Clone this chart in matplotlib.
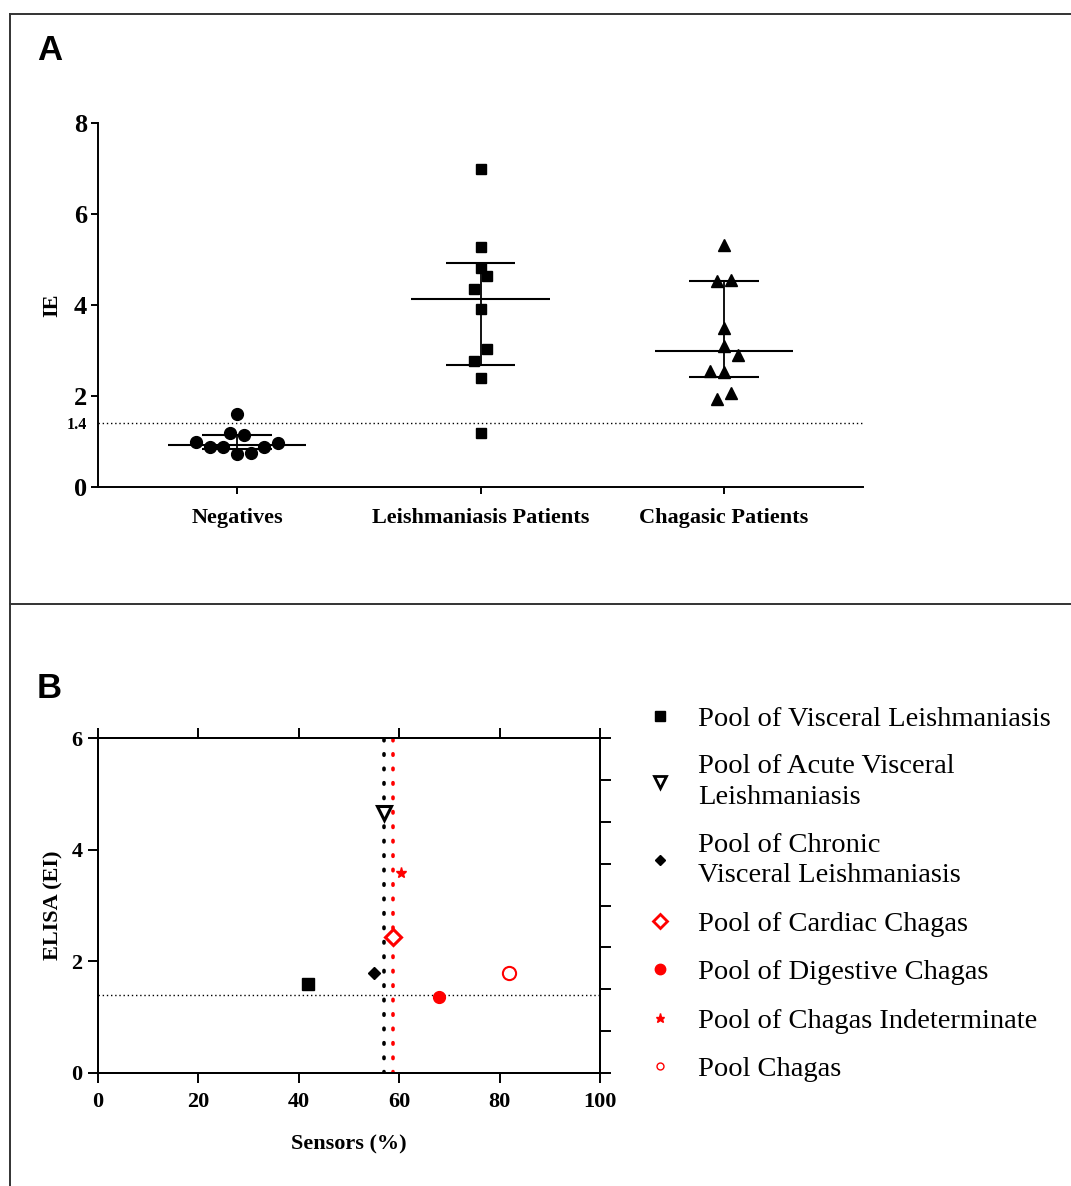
import numpy as np
import matplotlib
matplotlib.use("Agg")
import matplotlib.pyplot as plt
from matplotlib.lines import Line2D

plt.rcParams["font.family"] = ["Liberation Serif", "DejaVu Serif"]

# ---------------- Panel A data: IE per group ----------------
groups = ["Negatives", "Leishmaniasis Patients", "Chagasic Patients"]
ie_negatives = [1.60, 1.19, 1.14, 0.98, 0.87, 0.87, 0.73, 0.75, 0.87, 0.96]
ie_leish = [7.00, 5.28, 4.81, 4.64, 4.35, 3.92, 3.03, 2.78, 2.40, 1.18]
ie_chagas = [5.32, 4.53, 4.55, 3.49, 3.10, 2.90, 2.55, 2.53, 1.93, 2.06]
cutoff_ie = 1.4
yticks_a = [0, 2, 4, 6, 8]

# horizontal swarm slots used to keep overlapping points apart
slots_neg = [0, -0.5, 0.5, -3, -2, -1, 0, 1, 2, 3]
slots_leish = [0, 0, 0, 0.5, -0.5, 0, 0.5, -0.5, 0, 0]
slots_chagas = [0, -0.5, 0.5, 0, 0, 1, -1, 0, -0.5, 0.5]

# ---------------- Panel B data: sensors vs ELISA ----------------
pool_labels = [
    "Pool of Visceral Leishmaniasis",
    "Pool of Acute Visceral\nLeishmaniasis",
    "Pool of Chronic\nVisceral Leishmaniasis",
    "Pool of Cardiac Chagas",
    "Pool of Digestive Chagas",
    "Pool of Chagas Indeterminate",
    "Pool Chagas",
]
sensor_pct = [41.9, 57.0, 55.0, 58.8, 67.9, 60.3, 81.9]
elisa_ei = [1.59, 4.65, 1.80, 2.44, 1.36, 3.58, 1.79]
sensor_cutoff_leish = 57.0
sensor_cutoff_chagas = 58.8
elisa_cutoff = 1.4
xticks_b = [0, 20, 40, 60, 80, 100]
yticks_b = [0, 2, 4, 6]

W, H = 1071, 1186
fig = plt.figure(figsize=(W / 100, H / 100), dpi=100)

def fx(px):
    return px / W

def fy(py):
    return 1 - py / H

# panel frames
frame_kw = dict(color="#333333", lw=1.4, transform=fig.transFigure)
fig.add_artist(Line2D([fx(10), 1.0], [fy(14), fy(14)], **frame_kw))
fig.add_artist(Line2D([fx(10), 1.0], [fy(604), fy(604)], **frame_kw))
fig.add_artist(Line2D([fx(10), fx(10)], [0, fy(14)], **frame_kw))

fig.text(fx(37), fy(50), "A", fontsize=25, fontweight="bold",
         family="Liberation Sans", va="center", ha="left")
fig.text(fx(37), fy(688), "B", fontsize=25, fontweight="bold",
         family="Liberation Sans", va="center", ha="left")

# ================= Panel A =================
axA = fig.add_axes([fx(98), fy(487), fx(863) - fx(98), fy(123) - fy(487)])
slot_w = 0.056
series = [
    (ie_negatives, slots_neg, "o", 8.5),
    (ie_leish, slots_leish, "s", 7.5),
    (ie_chagas, slots_chagas, "^", 8),
]
for i, (vals, slots, mk, ms) in enumerate(series):
    vals = np.asarray(vals)
    xs = i + np.asarray(slots) * slot_w
    axA.plot(xs, vals, ls="none", marker=mk, ms=ms, color="black",
             mec="black", zorder=3)
    med = np.median(vals)
    q1, q3 = np.quantile(vals, [0.25, 0.75], method="weibull")
    axA.hlines(med, i - 0.285, i + 0.285, color="black", lw=1.5, zorder=4)
    axA.hlines([q1, q3], i - 0.142, i + 0.142, color="black", lw=1.5, zorder=4)
    axA.vlines(i, q1, q3, color="black", lw=1.3, zorder=4)

axA.axhline(cutoff_ie, color="black", lw=1.0, ls=(0, (1, 2)), zorder=1)
axA.set_xlim(-0.571, 2.571)
axA.set_ylim(0, 8)
axA.set_xticks(range(len(groups)))
axA.set_xticklabels(groups, fontsize=16, fontweight="bold")
axA.set_yticks(yticks_a + [cutoff_ie])
axA.set_yticklabels([str(t) for t in yticks_a] + ["1.4"])
for lab in axA.get_yticklabels():
    lab.set_fontweight("bold")
    lab.set_fontsize(19 if lab.get_text() != "1.4" else 11.5)
ytick_lines = axA.yaxis.get_major_ticks()
ytick_lines[-1].tick1line.set_visible(False)
axA.set_ylabel("IE", fontsize=16, fontweight="bold", labelpad=3)
for s in ["top", "right"]:
    axA.spines[s].set_visible(False)
for s in ["left", "bottom"]:
    axA.spines[s].set_linewidth(1.4)
axA.tick_params(axis="both", direction="out", length=5, width=1.4)
axA.tick_params(axis="x", pad=10)
axA.tick_params(axis="y", pad=3)

# ================= Panel B =================
axB = fig.add_axes([fx(98), fy(1073), fx(600) - fx(98), fy(738) - fy(1073)])
marker_styles = [
    dict(marker="s", ms=8, color="black", mfc="black", mec="black"),
    dict(marker="v", ms=10, color="black", mfc="white", mec="black", mew=2.2),
    dict(marker="D", ms=6, color="black", mfc="black", mec="black"),
    dict(marker="D", ms=8, color="red", mfc="white", mec="red", mew=2.2),
    dict(marker="o", ms=8.5, color="red", mfc="red", mec="red"),
    dict(marker="*", ms=8, color="red", mfc="red", mec="red"),
    dict(marker="o", ms=9.5, color="red", mfc="white", mec="red", mew=1.5),
]
legend_sizes = [7, 8, 5.5, 7.5, 7.5, 6.5, 5]
handles = []
for x, y, lab, st, lsz in zip(sensor_pct, elisa_ei, pool_labels,
                              marker_styles, legend_sizes):
    axB.plot([x], [y], ls="none", zorder=4, **st)
    hst = dict(st)
    hst["ms"] = lsz
    if "mew" in hst:
        hst["mew"] = min(hst["mew"], 2.0) if lsz > 6 else 1.0
    handles.append(Line2D([], [], ls="none", label=lab, **hst))

axB.axvline(sensor_cutoff_leish, color="black", lw=2.6, ls=(0, (0.4, 3.6)),
            dash_capstyle="round", zorder=2)
axB.axvline(sensor_cutoff_chagas, color="red", lw=2.6, ls=(0, (0.4, 3.6)),
            dash_capstyle="round", zorder=2)
axB.axhline(elisa_cutoff, color="black", lw=1.0, ls=(0, (1, 2)), zorder=1)

axB.set_xlim(0, 100)
axB.set_ylim(0, 6)
axB.set_xticks(xticks_b)
axB.set_yticks(yticks_b)
for lab in axB.get_xticklabels() + axB.get_yticklabels():
    lab.set_fontweight("bold")
    lab.set_fontsize(16)
axB.set_xlabel("Sensors (%)", fontsize=16, fontweight="bold", labelpad=16)
axB.set_ylabel("ELISA (EI)", fontsize=16, fontweight="bold", labelpad=6)
for s in axB.spines.values():
    s.set_linewidth(1.4)
axB.tick_params(axis="both", direction="out", length=7, width=1.4,
                top=True, labeltop=False)
axB.tick_params(axis="x", pad=7)
axB.tick_params(axis="y", right=False, pad=4)

axB2 = axB.twinx()
axB2.set_ylim(0, 8)
axB2.set_yticks(range(0, 9))
axB2.set_yticklabels([])
axB2.tick_params(axis="y", direction="out", length=8, width=1.4)
for s in axB2.spines.values():
    s.set_linewidth(1.4)

leg = fig.legend(handles=handles, loc="upper left",
                 bbox_to_anchor=(fx(646), fy(706)), frameon=False,
                 prop={"family": "Liberation Serif", "size": 20.5},
                 handlelength=1.0, handletextpad=0.83, labelspacing=0.79,
                 borderpad=0, borderaxespad=0)
for t in leg.get_texts():
    t.set_linespacing(1.3)

fig.savefig("out.png", dpi=100)
